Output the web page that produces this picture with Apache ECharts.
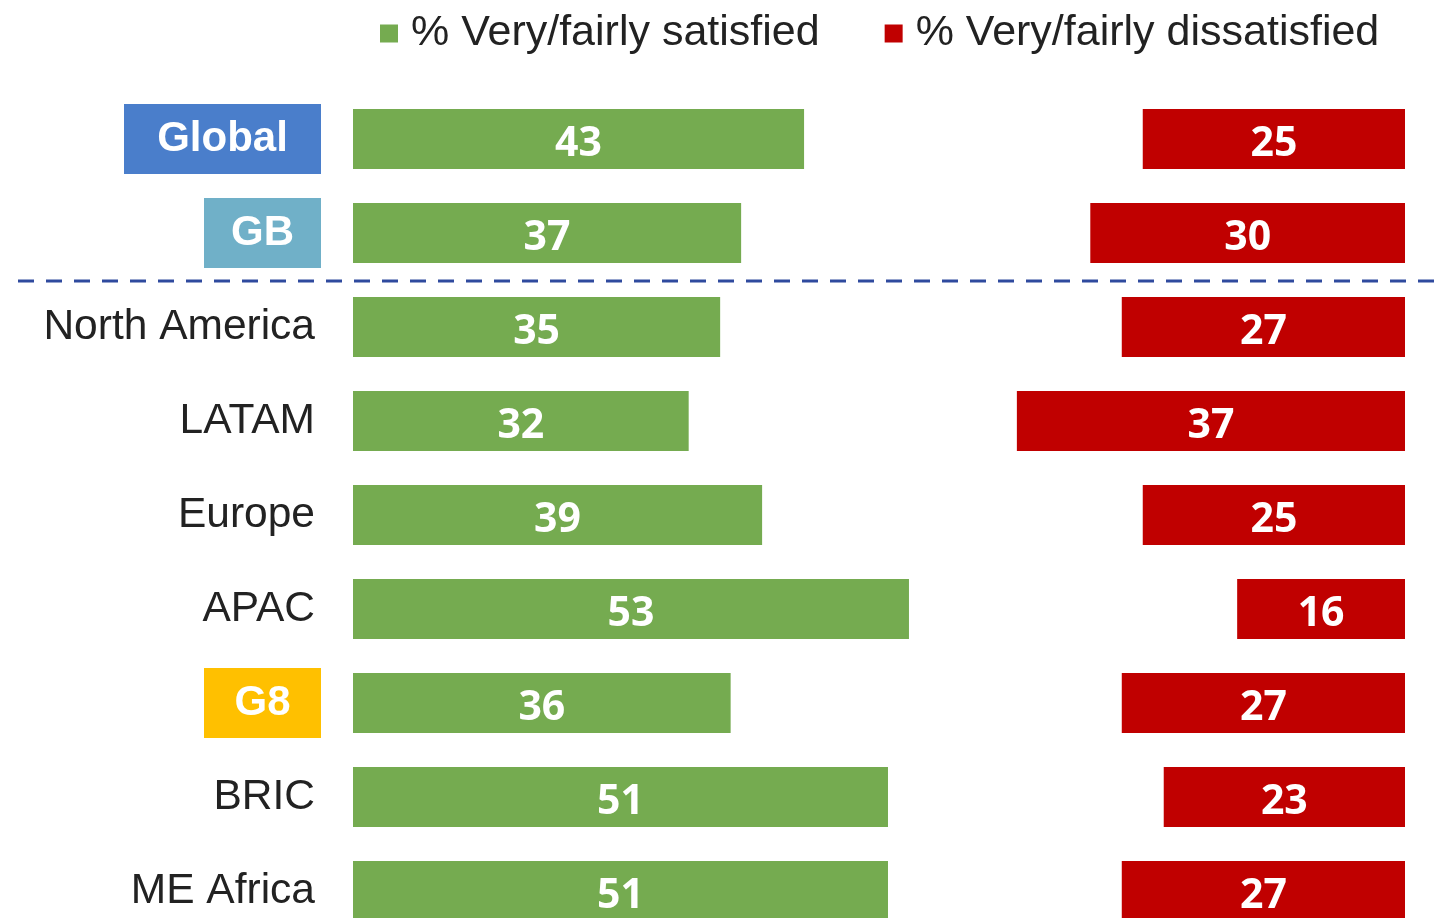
<!DOCTYPE html>
<html>
<head>
<meta charset="utf-8">
<script src="https://cdn.jsdelivr.net/npm/echarts@6/dist/echarts.min.js"></script>
<style>
  html, body { margin: 0; padding: 0; background: #fff; overflow: hidden; }
  /* the last row runs off the bottom of the picture, so the canvas is taller than the window */
  #chart { width: 1445px; height: 938px; }
</style>
</head>
<body>
<div id="chart"></div>
<script>
// data
var categories = ['Global', 'GB', 'North America', 'LATAM', 'Europe', 'APAC', 'G8', 'BRIC', 'ME Africa'];
var satisfied = [43, 37, 35, 32, 39, 53, 36, 51, 51];
var dissatisfied = [25, 30, 27, 37, 25, 16, 27, 23, 27];
var seriesNames = ['% Very/fairly satisfied', '% Very/fairly dissatisfied'];

// highlighted category labels
var boxed = { 'Global': 'global', 'GB': 'gb', 'G8': 'g8' };

var pxPerUnit = 10.49;
var labelFont = "'Liberation Sans', Arial, sans-serif";
var valueFont = "'Open Sans', 'Noto Sans', sans-serif";

var myChart = echarts.init(document.getElementById('chart'));

var valueLabel = {
    show: true,
    position: 'inside',
    offset: [0, 5],
    color: '#fff',
    fontFamily: valueFont,
    fontWeight: 'bold',
    fontSize: 41
};

var boxStyle = function (bg, w) {
    return {
        backgroundColor: bg,
        color: '#fff',
        fontFamily: labelFont,
        fontWeight: 'bold',
        fontSize: 42,
        width: w,
        height: 70,
        align: 'center',
        lineHeight: 70
    };
};

var option = {
    animation: false,
    legend: {
        data: seriesNames,
        left: 380,
        top: 12,
        padding: 0,
        icon: 'rect',
        itemWidth: 18,
        itemHeight: 18,
        itemGap: 65,
        textStyle: {
            fontFamily: labelFont,
            fontSize: 43,
            color: '#222',
            padding: [0, 0, 0, 8]
        }
    },
    grid: [
        { left: 353, top: 92, width: pxPerUnit * 60, bottom: 0 },
        { right: 40, top: 92, width: pxPerUnit * 40, bottom: 0 }
    ],
    xAxis: [
        { gridIndex: 0, type: 'value', min: 0, max: 60, show: false },
        { gridIndex: 1, type: 'value', min: 0, max: 40, inverse: true, show: false }
    ],
    yAxis: [
        {
            gridIndex: 0,
            type: 'category',
            data: categories,
            inverse: true,
            axisLine: { show: false },
            axisTick: { show: false },
            axisLabel: {
                margin: 32,
                formatter: function (v) {
                    var k = boxed[v];
                    return k ? '{' + k + '|' + v + '}' : '{plain|' + v + '}';
                },
                rich: {
                    plain: {
                        fontFamily: labelFont,
                        fontSize: 42.5,
                        color: '#222',
                        padding: [0, 6, 0, 0]
                    },
                    global: boxStyle('#4a7ecb', 197),
                    gb: boxStyle('#70b0c8', 117),
                    g8: boxStyle('#ffc000', 117)
                }
            }
        },
        {
            gridIndex: 1,
            type: 'category',
            data: categories,
            inverse: true,
            show: false
        }
    ],
    series: [
        {
            name: seriesNames[0],
            type: 'bar',
            xAxisIndex: 0,
            yAxisIndex: 0,
            data: satisfied,
            barWidth: 60,
            itemStyle: { color: '#75ab50' },
            label: valueLabel
        },
        {
            name: seriesNames[1],
            type: 'bar',
            xAxisIndex: 1,
            yAxisIndex: 1,
            data: dissatisfied,
            barWidth: 60,
            itemStyle: { color: '#c00000' },
            label: valueLabel
        }
    ],
    graphic: [
        {
            type: 'line',
            shape: { x1: 18, y1: 281, x2: 1435, y2: 281 },
            style: { stroke: '#2f4a9e', lineWidth: 3, lineDash: [16, 12] }
        }
    ]
};

myChart.setOption(option);
</script>
</body>
</html>
